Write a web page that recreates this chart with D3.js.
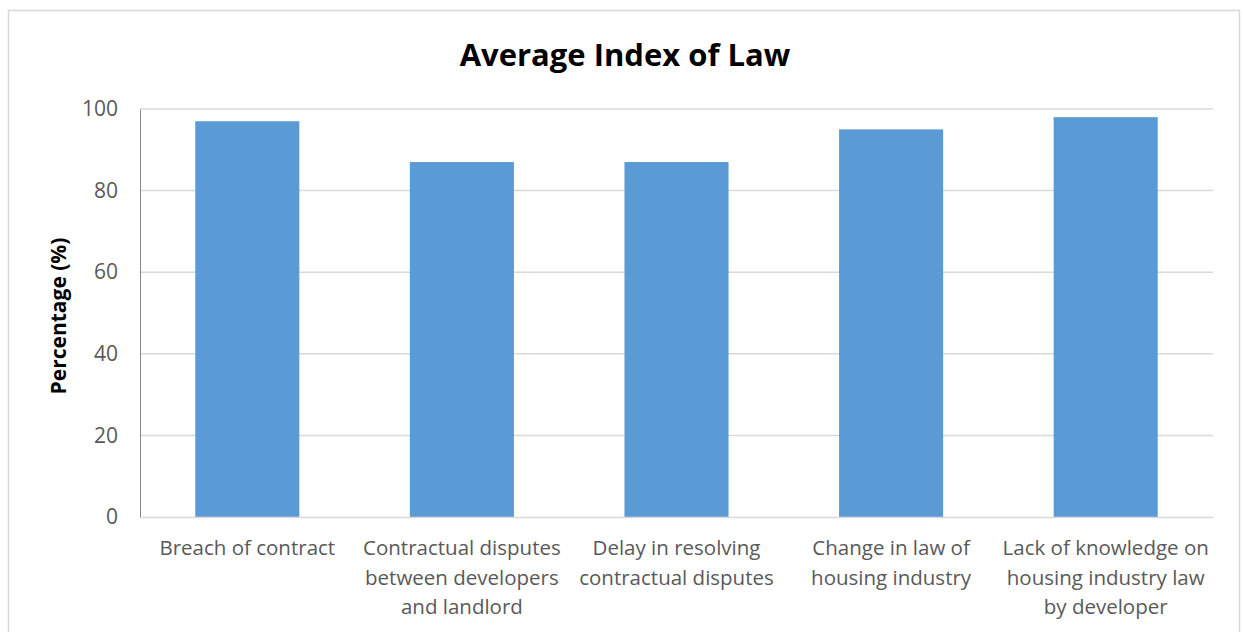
<!DOCTYPE html>
<html>
<head>
<meta charset="utf-8">
<script src="https://cdn.jsdelivr.net/npm/d3@7"></script>
<style>
  body { margin: 0; background: #fff; }
  text { font-family: "Open Sans", "Liberation Sans", sans-serif; }
</style>
</head>
<body>
<script>
var categories = [
  'Breach of contract',
  'Contractual disputes between developers and landlord',
  'Delay in resolving contractual disputes',
  'Change in law of housing industry',
  'Lack of knowledge on housing industry law by developer'
];
var values = [97, 87, 87, 95, 98];
var yTicks = [0, 20, 40, 60, 80, 100];

var width = 1244;
var height = 632;
var plotLeft = 140;
var plotRight = 1213;
var plotTop = 109;
var plotBottom = 517;
var labelSize = 20.5;

var svg = d3.select('body')
  .append('svg')
    .attr('width', width)
    .attr('height', height);

// chart border
svg.append('rect')
  .attr('x', 8.5)
  .attr('y', 10.5)
  .attr('width', 1231)
  .attr('height', 640)
  .attr('fill', '#fff')
  .attr('stroke', '#d9d9d9')
  .attr('stroke-width', 1.5);

svg.append('text')
  .attr('x', 625)
  .attr('y', 66)
  .attr('text-anchor', 'middle')
  .style('font-size', '31px')
  .style('font-weight', 'bold')
  .style('fill', '#000')
  .text('Average Index of Law');

var x = d3.scaleBand()
  .domain(categories)
  .range([plotLeft, plotRight])
  .paddingInner(0.515)
  .paddingOuter(0.2575);

var y = d3.scaleLinear()
  .domain([0, 100])
  .range([plotBottom, plotTop]);

// gridlines
svg.append('g')
  .selectAll('line')
  .data(yTicks.filter(d => d > 0))
  .join('line')
    .attr('x1', plotLeft)
    .attr('x2', plotRight)
    .attr('y1', d => y(d))
    .attr('y2', d => y(d))
    .attr('stroke', '#d9d9d9')
    .attr('stroke-width', 1.5);

// bars
svg.append('g')
  .selectAll('rect')
  .data(values)
  .join('rect')
    .attr('x', (d, i) => x(categories[i]))
    .attr('y', d => y(d))
    .attr('width', x.bandwidth())
    .attr('height', d => y(0) - y(d))
    .attr('fill', '#5b9bd5');

// y axis
var yAxis = svg.append('g')
  .attr('transform', 'translate(' + plotLeft + ',0)')
  .call(d3.axisLeft(y).tickValues(yTicks).tickSize(0).tickPadding(22));
yAxis.select('.domain').attr('stroke', '#868686').attr('stroke-width', 1);
yAxis.selectAll('text')
  .style('font-size', '21px')
  .style('fill', '#595959');

// x axis
var xAxis = svg.append('g')
  .attr('transform', 'translate(0,' + plotBottom + ')')
  .call(d3.axisBottom(x).tickSize(0).tickPadding(0));
xAxis.select('.domain').attr('stroke', '#d9d9d9').attr('stroke-width', 1.5);
xAxis.selectAll('text').remove();

function wrap(label, maxWidth) {
  var words = label.split(' ');
  var lines = [];
  var line = '';
  var probe = svg.append('text').style('font-size', labelSize + 'px');
  words.forEach(w => {
    var test = line ? line + ' ' + w : w;
    probe.text(test);
    if (probe.node().getComputedTextLength() > maxWidth && line) {
      lines.push(line);
      line = w;
    } else {
      line = test;
    }
  });
  lines.push(line);
  probe.remove();
  return lines;
}

categories.forEach(c => {
  var lines = wrap(c, x.step());
  var t = svg.append('text')
    .attr('text-anchor', 'middle')
    .style('font-size', labelSize + 'px')
    .style('fill', '#595959');
  lines.forEach((l, k) => {
    t.append('tspan')
      .attr('x', x(c) + x.bandwidth() / 2)
      .attr('y', 555 + k * 29.5)
      .text(l);
  });
});

svg.append('text')
  .attr('transform', 'translate(66,316) rotate(-90)')
  .attr('text-anchor', 'middle')
  .style('font-size', '21px')
  .style('font-weight', 'bold')
  .style('fill', '#000')
  .text('Percentage (%)');
</script>
</body>
</html>
